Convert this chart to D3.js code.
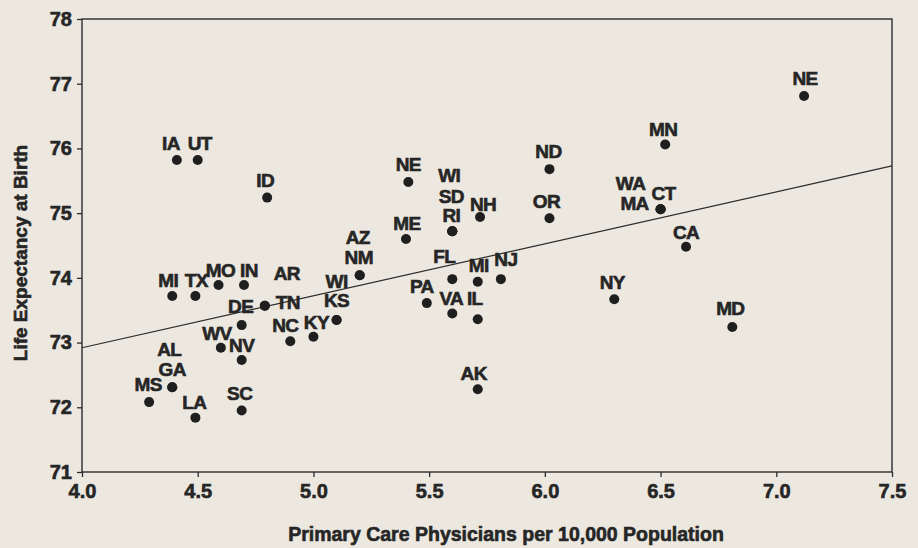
<!DOCTYPE html>
<html>
<head>
<meta charset="utf-8">
<script src="https://cdn.jsdelivr.net/npm/d3@7"></script>
<style>
  html, body { margin: 0; padding: 0; background: #ece8e0; }
  svg { display: block; }
  text { font-family: "Liberation Sans", Arial, Helvetica, sans-serif; font-weight: bold; fill: #262626;
         stroke: #262626; stroke-width: 0.6px; }
</style>
</head>
<body>
<div class="canvas"></div>
<script>
// states, x = primary care physicians per 10,000, y = life expectancy
const states = ['IA','UT','ID','NE','ME','WI','SD','RI','NH','ND','OR','MN','NE','WA','MA','CT','CA',
  'AZ','NM','FL','MI','NJ','PA','VA','IL','NY','MD','AK','MI','TX','MO','IN','AR','TN','DE','WV',
  'NV','NC','KY','WI','KS','AL','GA','MS','LA','SC'];
const physicians = [4.41, 4.50, 4.80, 5.41, 5.40, 5.60, 5.60, 5.60, 5.72, 6.02, 6.02, 6.52, 7.12, 6.50, 6.50, 6.50, 6.61,
  5.20, 5.20, 5.60, 5.71, 5.81, 5.49, 5.60, 5.71, 6.30, 6.81, 5.71, 4.39, 4.49, 4.59, 4.70, 4.79, 4.79, 4.69, 4.60,
  4.69, 4.90, 5.00, 5.10, 5.10, 4.39, 4.39, 4.29, 4.49, 4.69];
const lifeExp = [75.82, 75.82, 75.24, 75.48, 74.60, 74.72, 74.72, 74.72, 74.94, 75.68, 74.92, 76.06, 76.81, 75.06, 75.06, 75.06, 74.48,
  74.04, 74.04, 73.98, 73.94, 73.98, 73.61, 73.45, 73.36, 73.67, 73.24, 72.28, 73.72, 73.72, 73.89, 73.89, 73.57, 73.57, 73.27, 72.92,
  72.73, 73.02, 73.09, 73.35, 73.35, 72.31, 72.31, 72.08, 71.84, 71.95];

// fitted line end points
const fitX = [4.0, 7.5];
const fitY = [72.92, 75.73];

const xTicks = [4.0, 4.5, 5.0, 5.5, 6.0, 6.5, 7.0, 7.5];
const yTicks = [71, 72, 73, 74, 75, 76, 77, 78];

// label nudges (px) so names sit where they do in the print
const labelNudge = [[-6,-10],[2,-10],[-2,-11],[0,-11],[1,-9],[-3,-49],[-1,-28],[-1,-9],[3,-6],[-1,-11],[-3,-10],[-2,-9],[1,-11],
  [-30,-19],[-26,1],[3,-9],[0,-8],[-2,-31],[-1,-11],[-8,-16],[1,-10],[5,-13],[-5,-10],[-1,-8],[-3,-14],[-2,-10],[-2,-12],
  [-4,-9],[-4,-9],[1,-9],[2,-8],[5,-8],[22,-26],[23,3],[-1,-12],[-4,-8],[0,-8],[-5,-9],[3,-8],[0,-32],[0,-13],[-3,-31],
  [0,-11],[-1,-11],[-1,-9],[-2,-11]];

const width = 918, height = 548;
const margin = {top: 19, right: 26, bottom: 76, left: 82};

const svg = d3.select('.canvas')
  .append('svg')
    .attr('width', width)
    .attr('height', height);

const x = d3.scaleLinear().domain([4.0, 7.5]).range([margin.left, width - margin.right]);
const y = d3.scaleLinear().domain([71, 78]).range([height - margin.bottom, margin.top]);

// frame
svg.append('rect')
  .attr('x', x(4.0))
  .attr('y', y(78))
  .attr('width', x(7.5) - x(4.0))
  .attr('height', y(71) - y(78))
  .attr('fill', 'none')
  .attr('stroke', '#2b2b2b')
  .attr('stroke-width', 1.4);

const xAxis = d3.axisBottom(x).tickValues(xTicks).tickFormat(d3.format('.1f')).tickSize(5).tickPadding(7);
const yAxis = d3.axisLeft(y).tickValues(yTicks).tickFormat(d3.format('d')).tickSize(5).tickPadding(5);

const xg = svg.append('g').attr('transform', `translate(0, ${y(71)})`).call(xAxis);
const yg = svg.append('g').attr('transform', `translate(${x(4.0)}, 0)`).call(yAxis);

[xg, yg].forEach(g => {
  g.select('.domain').remove();
  g.selectAll('line').attr('stroke', '#2b2b2b').attr('stroke-width', 1.3);
  g.selectAll('text').style('font-size', '20px').attr('fill', '#262626');
});

// regression line
svg.append('line')
  .attr('x1', x(fitX[0])).attr('y1', y(fitY[0]))
  .attr('x2', x(fitX[1])).attr('y2', y(fitY[1]))
  .attr('stroke', '#2b2b2b')
  .attr('stroke-width', 1.2);

const data = states.map((s, i) => ({state: s, px: physicians[i], le: lifeExp[i], nudge: labelNudge[i]}));

svg.append('g').selectAll('circle')
  .data(data)
  .enter()
  .append('circle')
    .attr('cx', d => x(d.px))
    .attr('cy', d => y(d.le))
    .attr('r', 5)
    .attr('fill', '#1f1f1f');

svg.append('g').selectAll('text')
  .data(data)
  .enter()
  .append('text')
    .attr('x', d => x(d.px) + d.nudge[0])
    .attr('y', d => y(d.le) + d.nudge[1])
    .attr('text-anchor', 'middle')
    .style('font-size', '19px')
    .style('letter-spacing', '-0.6px')
    .text(d => d.state);

// axis titles
svg.append('text')
  .attr('x', 506)
  .attr('y', 541)
  .attr('text-anchor', 'middle')
  .style('font-size', '19.5px')
  .text('Primary Care Physicians per 10,000 Population');

svg.append('text')
  .attr('transform', 'translate(27, 253) rotate(-90)')
  .attr('text-anchor', 'middle')
  .style('font-size', '19px')
  .text('Life Expectancy at Birth');
</script>
</body>
</html>
